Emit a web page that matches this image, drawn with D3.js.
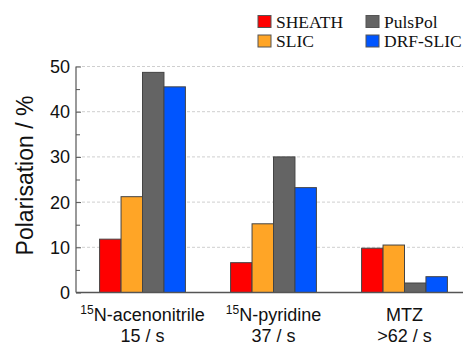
<!DOCTYPE html>
<html>
<head>
<meta charset="utf-8">
<script src="https://cdn.jsdelivr.net/npm/d3@7/dist/d3.min.js"></script>
<style>
  body { margin: 0; background: #fff; }
  svg { display: block; }
</style>
</head>
<body>
<svg id="chart" width="463" height="346"></svg>
<script>
const categories = ["acenonitrile", "pyridine", "MTZ"];
const labelLine1 = [
  { sup: "15", text: "N-acenonitrile" },
  { sup: "15", text: "N-pyridine" },
  { sup: "", text: "MTZ" }
];
const labelLine2 = ["15 / s", "37 / s", ">62 / s"];
const seriesNames = ["SHEATH", "SLIC", "PulsPol", "DRF-SLIC"];
const seriesColors = ["#ff0000", "#ffa526", "#646464", "#0055ff"];
const sheath = [11.8, 6.6, 9.8];
const slic = [21.2, 15.2, 10.5];
const pulspol = [48.7, 30.0, 2.1];
const drfslic = [45.5, 23.2, 3.5];
const yTicks = [0, 10, 20, 30, 40, 50];
const yMinorTicks = [5, 15, 25, 35, 45];

const seriesValues = [sheath, slic, pulspol, drfslic];

const svg = d3.select("#chart");
const plotLeft = 76, plotRight = 463, plotTop = 66.5, plotBottom = 292.5;

const x = d3.scaleBand().domain(categories).range([77, 470])
  .paddingInner(0.345).paddingOuter(0.1725);
const xs = d3.scaleBand().domain(seriesNames).range([0, x.bandwidth()]);
const y = d3.scaleLinear().domain([0, 50]).range([plotBottom, plotTop]);

// gridlines
svg.append("g").selectAll("line").data(yTicks.filter(d => d > 0)).join("line")
  .attr("x1", plotLeft + 1).attr("x2", plotRight)
  .attr("y1", d => y(d)).attr("y2", d => y(d))
  .attr("stroke", "#cfcfcf").attr("stroke-width", 1)
  .attr("stroke-dasharray", "3,2");

// bars
const groups = svg.append("g").selectAll("g").data(categories).join("g")
  .attr("transform", d => `translate(${x(d)},0)`);
groups.selectAll("rect")
  .data((c, i) => seriesNames.map((s, j) => ({ s, j, v: seriesValues[j][i] })))
  .join("rect")
  .attr("x", d => xs(d.s))
  .attr("width", xs.bandwidth())
  .attr("y", d => y(d.v))
  .attr("height", d => y(0) - y(d.v))
  .attr("fill", d => seriesColors[d.j])
  .attr("stroke", "#444").attr("stroke-width", 1);

// y axis
const yAxis = d3.axisRight(y).tickValues(yTicks).tickSize(5).tickFormat("");
const gy = svg.append("g").attr("transform", `translate(${plotLeft},0)`).call(yAxis);
gy.select(".domain").remove();
gy.selectAll("line").attr("stroke", "#555");
const yAxisMinor = d3.axisRight(y).tickValues(yMinorTicks).tickSize(4).tickFormat("");
const gym = svg.append("g").attr("transform", `translate(${plotLeft},0)`).call(yAxisMinor);
gym.select(".domain").remove();
gym.selectAll("line").attr("stroke", "#555");

svg.append("line").attr("x1", plotLeft).attr("x2", plotLeft).attr("y1", plotTop).attr("y2", plotBottom)
  .attr("stroke", "#555").attr("stroke-width", 1.2);
svg.append("line").attr("x1", plotLeft).attr("x2", plotRight).attr("y1", plotBottom).attr("y2", plotBottom)
  .attr("stroke", "#555").attr("stroke-width", 1.5);

// y tick labels
svg.append("g").selectAll("text").data(yTicks).join("text")
  .attr("x", 70).attr("y", d => y(d)).attr("dy", "0.36em")
  .attr("text-anchor", "end")
  .attr("font-family", "Liberation Sans, Arial, sans-serif")
  .attr("font-size", 18).attr("fill", "#111")
  .text(d => d);

// y label
svg.append("text")
  .attr("transform", "translate(33,175.5) rotate(-90)")
  .attr("text-anchor", "middle")
  .attr("font-family", "Liberation Sans, Arial, sans-serif")
  .attr("font-size", 23).attr("fill", "#111")
  .text("Polarisation / %");

// x labels
const xl = svg.append("g");
categories.forEach((c, i) => {
  const cx = x(c) + x.bandwidth() / 2;
  const t1 = xl.append("text").attr("x", cx).attr("y", 321)
    .attr("text-anchor", "middle")
    .attr("font-family", "Liberation Sans, Arial, sans-serif")
    .attr("font-size", 18).attr("fill", "#111");
  if (labelLine1[i].sup) {
    t1.append("tspan").attr("font-size", 12).attr("dy", -7).text(labelLine1[i].sup);
    t1.append("tspan").attr("dy", 7).text(labelLine1[i].text);
  } else {
    t1.text(labelLine1[i].text);
  }
  xl.append("text").attr("x", cx).attr("y", 342)
    .attr("text-anchor", "middle")
    .attr("font-family", "Liberation Sans, Arial, sans-serif")
    .attr("font-size", 18).attr("fill", "#111")
    .text(labelLine2[i]);
});

// legend
const legendPos = [[258, 15.5], [258, 35], [366, 15.5], [366, 35]];
const lg = svg.append("g");
seriesNames.forEach((s, j) => {
  const [lx, ly] = legendPos[j];
  lg.append("rect").attr("x", lx).attr("y", ly).attr("width", 13).attr("height", 12)
    .attr("fill", seriesColors[j]).attr("stroke", "#555").attr("stroke-width", 1);
  lg.append("text").attr("x", lx + 18).attr("y", ly + 12)
    .attr("font-family", "Liberation Serif, Times New Roman, serif")
    .attr("font-size", 17.5).attr("fill", "#111")
    .text(s);
});
</script>
</body>
</html>
